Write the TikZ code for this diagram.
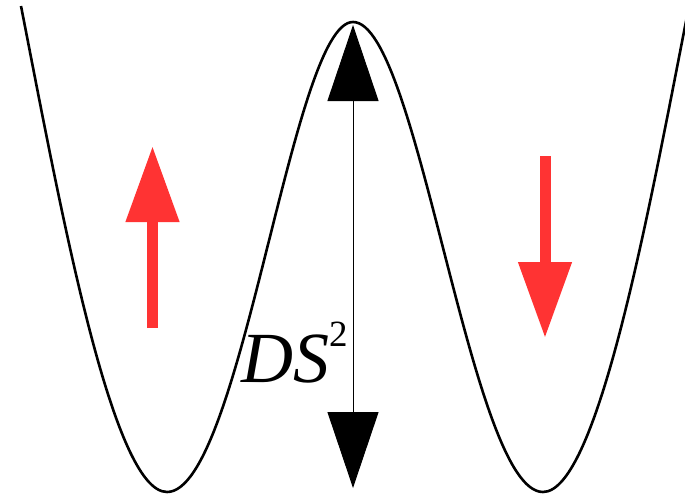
\documentclass[tikz,border=0pt]{standalone}
\usepackage{fontspec}
\setmainfont{Liberation Serif}
\usetikzlibrary{arrows.meta}
\definecolor{arrowred}{RGB}{255,51,51}
\tikzset{
  potential/.style={line width=2.6pt, black, line join=round},
  gap/.style={line width=1pt, black, {Triangle[length=76pt,width=51pt]}-{Triangle[length=76pt,width=51pt]}},
  spin/.style={line width=11pt, arrowred, -{Triangle[length=76pt,width=51pt]}}
}
\begin{document}
\begin{tikzpicture}[x=1pt,y=-1pt]
\useasboundingbox (0,0) rectangle (685,498);
\coordinate (lefttop) at (21,6);
\coordinate (leftmin) at (167,492);
\coordinate (peak) at (353,22);
\coordinate (rightmin) at (543,492);
\coordinate (righttop) at (689,6);
\begin{scope}
\clip (0,0) rectangle (685,498);
\draw[potential] (lefttop) .. controls (60.2,206) and (112,492) .. (leftmin)
  .. controls (241,492) and (292,22) .. (peak)
  .. controls (418.5,22) and (470.5,492) .. (rightmin)
  .. controls (598,492) and (649.8,206) .. (righttop);
\end{scope}
\coordinate (top) at (353,25);
\coordinate (bottom) at (353,488);
\draw[gap] (bottom) -- (top);
\coordinate (upfrom) at (152.5,328);
\coordinate (upto) at (152.5,146);
\coordinate (downfrom) at (545,156);
\coordinate (downto) at (545,338);
\draw[spin] (upfrom) -- (upto);
\draw[spin] (downfrom) -- (downto);
\node[anchor=base west, inner sep=0pt] (label) at (241,382)
  {{\fontsize{72}{72}\selectfont\itshape DS}\raisebox{36pt}{\fontsize{37}{37}\selectfont 2}};
\end{tikzpicture}
\end{document}
